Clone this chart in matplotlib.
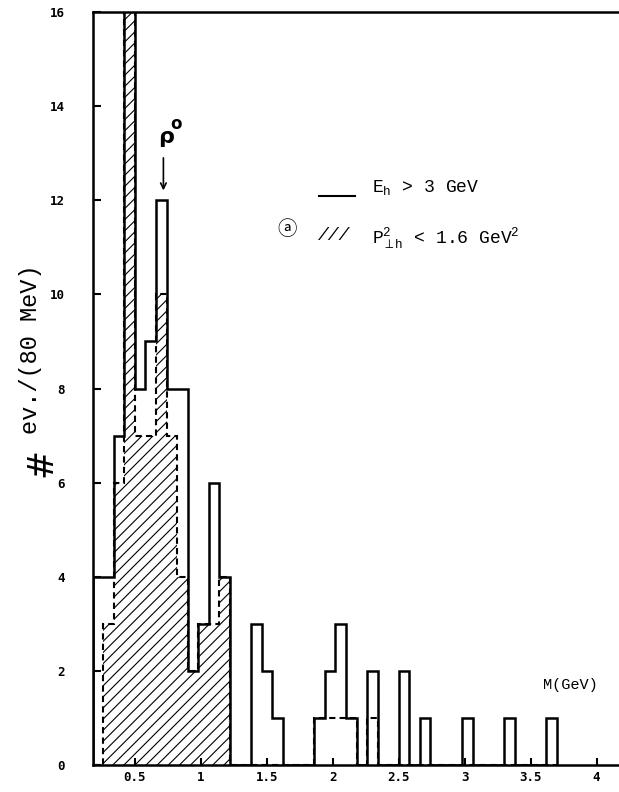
import matplotlib
matplotlib.use('Agg')
import matplotlib.pyplot as plt
import numpy as np

# 80 MeV bins starting at 0.18 GeV
bin_lo = 0.18
bin_w = 0.08
# E_h > 3 GeV (solid outline)
all_counts = [4, 4, 7, 17, 8, 9, 12, 8, 8, 2, 3, 6, 4,
              0, 0, 3, 2, 1, 0, 0, 0, 1, 2, 3, 1, 0, 2, 0, 0,
              2, 0, 1, 0, 0, 0, 1, 0, 0, 0, 1, 0, 0, 0, 1]
# P_perp^2 < 1.6 GeV^2 (dashed outline, hatched)
cut_counts = [0, 3, 6, 17, 7, 7, 10, 7, 4, 2, 3, 3, 4,
              0, 0, 0, 0, 0, 0, 0, 0, 1, 1, 1, 1, 0, 1, 0, 0,
              0, 0, 0, 0, 0, 0, 0, 0, 0, 0, 0, 0, 0, 0, 0]
hatch_upto = 1.22
xticks = [0.5, 1, 1.5, 2, 2.5, 3, 3.5, 4]
xticklabels = ['0.5', '1', '1.5', '2', '2.5', '3', '3.5', '4']
yticks = [0, 2, 4, 6, 8, 10, 12, 14, 16]

plt.rcParams['mathtext.fontset'] = 'custom'
plt.rcParams['mathtext.rm'] = 'Liberation Mono'
plt.rcParams['mathtext.it'] = 'Liberation Mono'
plt.rcParams['hatch.linewidth'] = 0.8

edges = bin_lo + bin_w * np.arange(len(all_counts) + 1)
all_counts = np.array(all_counts)
cut_counts = np.array(cut_counts)

fig = plt.figure(figsize=(6.19, 7.92), dpi=100)
ax = fig.add_axes([92.7 / 619, 27 / 792, (619 - 92.7) / 619, 753 / 792])

# hatching of the cut sample (low mass part only, as in the original)
sel = edges[:-1] < hatch_upto - 1e-6
xs = np.append(edges[:-1][sel], edges[1:][sel][-1])
ys = np.append(cut_counts[sel], cut_counts[sel][-1])
ax.fill_between(xs, ys, step='post', facecolor='none', edgecolor='black',
                hatch='///', linewidth=0)
ax.stairs(cut_counts, edges, color='black', lw=1.5, linestyle=(0, (3, 2)))
ax.stairs(all_counts, edges, color='black', lw=1.8)

ax.set_xlim(bin_lo, 4.17)
ax.set_ylim(0, 16)
ax.spines['right'].set_visible(False)
for s in ['left', 'bottom', 'top']:
    ax.spines[s].set_linewidth(1.8)

ax.set_xticks(xticks)
ax.set_xticklabels(xticklabels)
ax.set_yticks(yticks)
ax.tick_params(axis='both', direction='in', width=1.5)
ax.tick_params(axis='y', length=6, pad=20)
ax.tick_params(axis='x', length=5, pad=4)
for lab in ax.get_xticklabels() + ax.get_yticklabels():
    lab.set_family('DejaVu Sans Mono')
    lab.set_fontweight('bold')
    lab.set_fontsize(9)

# axis labels
fig.text(41 / 619, 1 - 463 / 792, '#', rotation=90, fontsize=25,
         ha='center', va='center', family='DejaVu Sans')
fig.text(31 / 619, 1 - 349 / 792, 'ev./(80 MeV)', rotation=90, fontsize=17,
         ha='center', va='center', family='Liberation Mono')
ax.text(3.80, 1.70, 'M(GeV)', fontsize=11, ha='center', va='center',
        family='Liberation Mono')

# rho annotation
ax.annotate('', xy=(0.716, 12.15), xytext=(0.716, 12.96),
            arrowprops=dict(arrowstyle='->', lw=1.2, color='black'))
ax.text(0.735, 13.35, '\u03c1', fontsize=16, ha='center', va='center',
        family='DejaVu Sans', fontweight='bold')
ax.text(0.815, 13.62, 'o', fontsize=12, ha='center', va='center',
        family='DejaVu Sans', fontweight='bold')

# legend
ax.plot([1.895, 2.17], [12.09, 12.09], color='black', lw=1.5)
ax.text(2.30, 12.28, r'$\mathrm{E_h}$ > 3 GeV', fontsize=13, ha='left',
        va='center', family='Liberation Mono')
ax.text(1.654, 11.37, '\u24d0', fontsize=14, ha='center', va='center',
        family=['Noto Sans CJK JP', 'DejaVu Sans'])
ax.text(2.01, 11.26, '///', fontsize=13, ha='center', va='center',
        family='Liberation Mono', style='italic')
ax.text(2.30, 11.20, r'$\mathrm{P^2_{\perp h}}$ < 1.6 GeV$^2$', fontsize=13,
        ha='left', va='center', family='Liberation Mono')

fig.savefig('out.png', dpi=100)
